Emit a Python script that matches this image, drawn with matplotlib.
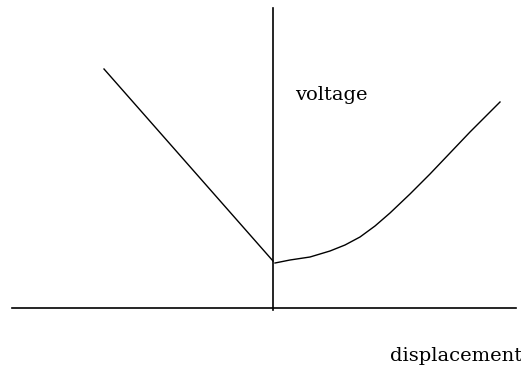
import matplotlib.pyplot as plt

# sketch of voltage vs displacement (pixel coordinates of the original drawing)
left_x = [104, 273]
left_y = [69, 261]

right_x = [275, 290, 310, 330, 345, 360, 375, 390, 410, 430, 450, 470, 490, 500]
right_y = [263, 260, 257, 251, 245, 237, 226, 213, 194, 174, 153, 132, 112, 102]

axis_x = [12, 516]
axis_y = 308
vert_x = 273
vert_y = [8, 310]

fig = plt.figure(figsize=(5.21, 3.70), dpi=100)
ax = fig.add_axes([0, 0, 1, 1])
ax.set_xlim(0, 521)
ax.set_ylim(370, 0)
ax.axis('off')

ax.plot(axis_x, [axis_y, axis_y], color='black', lw=1.2)
ax.plot([vert_x, vert_x], vert_y, color='black', lw=1.2)
ax.plot(left_x, left_y, color='black', lw=1.0)
ax.plot(right_x, right_y, color='black', lw=1.0)

ax.text(295, 100, 'voltage', fontsize=14, family='DejaVu Serif', va='baseline')
ax.text(390, 361, 'displacement', fontsize=14, family='DejaVu Serif', va='baseline')

fig.savefig('out.png', dpi=100)
